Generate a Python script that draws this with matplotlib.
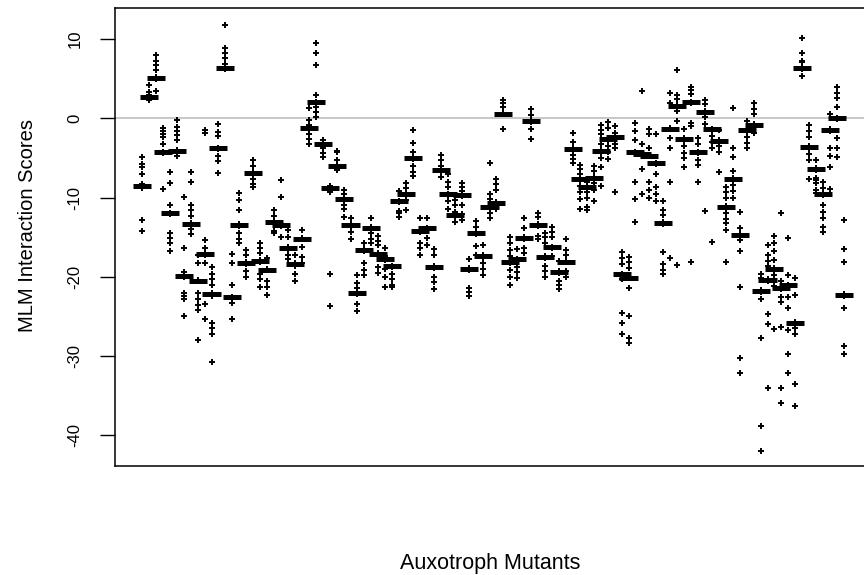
import numpy as np
import matplotlib.pyplot as plt

plt.rcParams['font.family'] = ['Liberation Sans', 'DejaVu Sans']
plt.rcParams['axes.unicode_minus'] = False

# median MLM interaction score for each auxotroph mutant, in plotting order
medians = [
    -8.5, 2.7, 5.1, -4.3, -12.0, -4.1, -19.9, -13.3, -20.5, -17.1,
    -22.2, -3.8, 6.3, -22.6, -13.5, -18.3, -6.9, -18.0, -19.1, -13.1,
    -13.5, -16.4, -18.4, -15.2, -1.2, 2.0, -3.2, -8.8, -6.0, -10.2,
    -13.5, -22.1, -16.6, -13.8, -17.1, -17.8, -18.7, -10.5, -9.6, -5.0,
    -14.2, -13.9, -18.8, -6.5, -9.6, -12.2, -9.7, -19.0, -14.5, -17.4,
    -11.2, -10.7, 0.6, -18.2, -17.8, -15.1, -0.4, -13.5, -17.5, -16.3,
    -19.4, -18.1, -3.9, -7.7, -8.7, -7.5, -4.1, -2.6, -2.4, -19.7,
    -20.1, -4.3, -4.5, -4.7, -5.7, -13.2, -1.3, 1.6, -2.6, 2.0,
    -4.3, 0.8, -1.4, -2.9, -11.2, -7.6, -14.7, -1.5, -0.8, -21.8,
    -20.4, -19.0, -21.4, -21.1, -25.8, 6.3, -3.6, -6.4, -9.6, -1.5,
    0.0, -22.3,
]

# replicate scores per mutant
scores = [
    [-8.5, -8.5, -8.3, -8.8, -7.0, -4.9, -6.2, -5.8, -12.9, -14.2],
    [2.7, 2.5, 2.9, 2.3, 3.3, 4.2, 2.6],
    [5.1, 5.0, 5.2, 6.1, 6.7, 7.3, 8.0, 3.4],
    [-4.3, -4.2, -4.4, -1.2, -1.6, -2.0, -2.4, -3.2, -8.9],
    [-12.0, -11.9, -12.1, -11.0, -6.8, -8.2, -14.5, -15.1, -15.8, -16.7],
    [-4.1, -4.0, -4.2, -1.1, -1.6, -2.1, -2.7, -4.8, -0.2],
    [-19.9, -19.8, -20.0, -19.4, -16.4, -22.0, -22.4, -22.8, -24.9, -9.9],
    [-13.3, -13.2, -13.5, -11.0, -11.6, -12.3, -6.8, -8.0, -14.0, -14.6],
    [-20.5, -20.4, -20.6, -17.3, -18.3, -22.1, -22.8, -23.6, -24.2, -28.0],
    [-17.1, -17.0, -17.2, -15.4, -16.4, -18.3, -23.4, -25.4, -1.5, -1.9],
    [-22.2, -22.1, -22.4, -18.8, -19.6, -20.3, -21.0, -25.9, -26.5, -27.2, -30.8],
    [-3.8, -3.7, -3.9, -0.7, -1.7, -2.2, -4.7, -5.4, -6.9],
    [6.3, 6.2, 6.4, 6.9, 7.6, 8.2, 8.9, 11.8],
    [-22.6, -22.5, -22.7, -23.3, -25.3, -17.1, -18.3, -21.0],
    [-13.5, -13.4, -13.6, -9.4, -10.3, -11.6, -14.5, -15.2, -15.8],
    [-18.3, -18.2, -18.4, -16.6, -17.2, -19.3, -20.0],
    [-6.9, -6.8, -7.0, -5.3, -6.0, -7.7, -8.3, -8.7],
    [-18.0, -17.9, -18.1, -15.8, -16.4, -17.0, -19.7, -20.3, -21.3],
    [-19.1, -19.0, -19.2, -17.6, -20.5, -21.3, -22.3],
    [-13.1, -13.0, -13.2, -11.6, -12.3, -14.2, -14.5],
    [-13.5, -13.4, -13.6, -7.8, -9.9, -15.0],
    [-16.4, -16.3, -16.5, -14.1, -15.0, -17.3, -17.8],
    [-18.4, -18.3, -18.5, -17.2, -18.7, -19.6, -20.6],
    [-15.2, -15.1, -15.3, -14.1, -16.3, -17.5, -18.3],
    [-1.2, -1.1, -1.3, -0.2, -0.9, -2.0, -2.6, -3.2, 1.3],
    [2.0, 1.9, 2.1, 2.9, 9.5, 8.2, 6.7, 1.4, 0.8, 0.2],
    [-3.2, -3.1, -3.3, -2.7, -3.8, -4.4, -4.9],
    [-8.8, -8.7, -8.9, -8.5, -9.3, -19.7, -23.7],
    [-6.0, -5.9, -6.1, -4.1, -4.3, -5.3, -6.5],
    [-10.2, -10.1, -10.3, -9.0, -9.6, -11.0, -11.5, -12.5],
    [-13.5, -13.4, -13.6, -12.6, -14.3, -15.2],
    [-22.1, -22.0, -22.2, -19.8, -20.8, -21.4, -23.4, -24.3],
    [-16.6, -16.5, -16.7, -15.8, -18.3, -19.2, -19.8],
    [-13.8, -13.7, -13.9, -12.6, -14.5, -15.2, -15.8],
    [-17.1, -17.0, -17.2, -14.9, -15.5, -16.0, -18.8, -19.5],
    [-17.8, -17.7, -17.9, -16.4, -17.4, -19.0, -20.0, -21.3],
    [-18.7, -18.6, -18.8, -19.6, -20.3, -21.0, -21.3],
    [-10.5, -10.4, -10.6, -9.2, -11.7, -12.0, -12.4],
    [-9.6, -9.5, -9.7, -8.2, -8.8, -10.3, -11.6],
    [-5.0, -4.9, -5.1, -1.5, -3.1, -4.3, -6.0, -6.8, -7.3],
    [-14.2, -14.1, -14.3, -12.6, -15.8, -16.4, -17.2],
    [-13.9, -13.8, -14.0, -12.6, -15.1, -16.0],
    [-18.8, -18.7, -18.9, -16.5, -17.3, -20.0, -20.7, -21.5],
    [-6.5, -6.4, -6.6, -4.6, -5.3, -6.0, -7.4],
    [-9.6, -9.5, -9.7, -7.0, -8.0, -8.7, -10.5, -11.4],
    [-12.2, -12.1, -12.3, -10.3, -11.0, -11.8, -13.1],
    [-9.7, -9.6, -9.8, -8.2, -8.7, -9.2, -11.0, -12.1, -12.8],
    [-19.0, -18.9, -19.1, -17.8, -21.4, -21.9, -22.4],
    [-14.5, -14.4, -14.6, -13.0, -13.7, -16.1, -17.2],
    [-17.4, -17.3, -17.5, -16.0, -18.3, -19.0, -19.8],
    [-11.2, -11.1, -11.3, -5.7, -9.6, -10.2, -12.0, -12.6],
    [-10.7, -10.6, -10.8, -7.6, -8.3, -9.1, -11.5],
    [0.6, 0.5, 0.7, 1.4, 1.9, 2.3, -1.3],
    [-18.2, -18.1, -18.3, -15.0, -15.8, -16.6, -17.4, -19.2, -20.0, -21.1],
    [-17.8, -17.7, -17.9, -16.5, -18.8, -19.4, -20.2],
    [-15.1, -15.0, -15.2, -12.6, -13.8, -16.4, -17.0],
    [-0.4, -0.3, -0.5, 1.2, 0.4, -1.3, -2.6],
    [-13.5, -13.4, -13.6, -12.0, -12.5, -14.8, -15.3],
    [-17.5, -17.4, -17.6, -14.5, -15.0, -15.8, -18.6, -19.3, -20.0],
    [-16.3, -16.2, -16.4, -13.7, -14.3, -15.0, -17.4],
    [-19.4, -19.3, -19.5, -18.0, -20.5, -21.0, -21.5],
    [-18.1, -18.0, -18.2, -15.3, -16.6, -17.3, -19.3, -20.0],
    [-3.9, -3.8, -4.0, -1.9, -3.0, -4.6, -5.1, -5.6],
    [-7.7, -7.6, -7.8, -5.9, -6.4, -7.0, -8.5, -9.3, -10.2, -11.5],
    [-8.7, -8.6, -8.8, -8.0, -9.3, -10.0, -11.2, -11.6],
    [-7.5, -7.4, -7.6, -6.0, -6.6, -8.2, -9.0, -10.4],
    [-4.1, -4.0, -4.2, -0.8, -1.5, -2.0, -3.3, -5.0, -6.2, -8.5],
    [-2.6, -2.5, -2.7, -0.5, -1.2, -3.5, -4.2, -5.1],
    [-2.4, -2.3, -2.5, -1.0, -1.8, -3.2, -3.8, -9.3],
    [-19.7, -19.6, -19.8, -16.9, -17.6, -18.4, -20.3, -24.6, -25.9, -27.2],
    [-20.1, -20.0, -20.2, -17.5, -18.2, -18.9, -21.4, -25.0, -27.7, -28.4],
    [-4.3, -4.2, -4.4, -0.6, -1.6, -2.8, -8.1, -10.2, -13.1],
    [-4.5, -4.4, -4.6, 3.4, -3.2, -6.4, -9.5],
    [-4.7, -4.6, -4.8, -1.3, -2.0, -3.8, -8.0, -9.0, -10.0],
    [-5.7, -5.6, -5.8, -2.0, -7.0, -8.7, -9.5, -10.4],
    [-13.2, -13.1, -13.3, -10.4, -11.6, -12.2, -16.9, -18.4, -19.2, -19.6],
    [-1.3, -1.2, -1.4, 1.9, 3.2, -2.5, -3.7, -8.0, -17.6],
    [1.6, 1.5, 1.7, 0.9, 2.4, 3.0, 6.1, -0.4, -18.5],
    [-2.6, -2.5, -2.7, -1.3, -3.5, -4.4, -5.0, -6.2],
    [2.0, 1.9, 2.1, 3.1, 3.6, 3.9, -0.6, -1.0, -18.2],
    [-4.3, -4.2, -4.4, -2.5, -3.2, -5.3, -5.9, -8.0],
    [0.8, 0.7, 0.9, 1.8, 2.3, 0.2, -0.7, -11.7],
    [-1.4, -1.3, -1.5, -2.2, -3.0, -3.8, -15.6],
    [-2.9, -2.8, -3.0, -1.5, -3.5, -4.3, -6.8],
    [-11.2, -11.1, -11.3, -8.7, -9.3, -10.0, -11.9, -12.7, -13.2, -14.1, -18.1],
    [-7.6, -7.5, -7.7, -6.7, -3.8, -4.9, -8.4, -9.2, -10.0, 1.3],
    [-14.7, -14.6, -14.8, -11.8, -13.8, -15.4, -16.7, -21.3, -30.3, -32.2],
    [-1.5, -1.4, -1.6, -0.3, -2.4, -3.1, -3.8],
    [-0.8, -0.7, -0.9, 0.6, 1.2, 1.9, -1.8],
    [-21.8, -21.7, -21.9, -19.6, -20.2, -22.8, -27.8, -38.9, -42.0],
    [-20.4, -20.3, -20.5, -16.0, -17.2, -18.0, -18.6, -24.7, -26.0, -34.0],
    [-19.0, -18.9, -19.1, -14.8, -15.7, -16.8, -17.9, -19.8, -21.2, -26.6],
    [-21.4, -21.3, -21.5, -12.0, -20.6, -22.6, -23.2, -26.4, -34.0, -36.0],
    [-21.1, -21.0, -21.2, -15.1, -19.8, -22.6, -23.9, -26.7, -29.8, -32.2],
    [-25.8, -25.7, -25.9, -20.1, -22.3, -26.5, -27.2, -33.6, -36.3],
    [6.3, 6.2, 6.4, 5.4, 7.1, 7.3, 8.2, 10.1],
    [-3.6, -3.5, -3.7, -0.9, -1.6, -2.3, -4.5, -5.3, -7.6],
    [-6.4, -6.3, -6.5, -5.3, -7.5, -7.8, -8.2, -9.0, -9.4],
    [-9.6, -9.5, -9.7, -8.0, -8.8, -11.0, -11.8, -12.6, -13.7, -14.4],
    [-1.5, -1.4, -1.6, 0.5, -3.7, -4.8, -6.2, -8.9],
    [0.0, 0.1, -0.1, 1.4, 2.6, 3.2, 3.9, -2.5, -3.8, -4.9],
    [-22.3, -22.2, -22.4, -12.9, -16.5, -18.2, -23.9, -28.7, -29.7],
]

mutants = np.arange(1, len(medians) + 1)

W, H = 864, 575
fig = plt.figure(figsize=(W / 100, H / 100), dpi=100)
# plot region runs past the right edge of the image
ax = fig.add_axes([115 / W, 1 - 466 / H, 765 / W, 458 / H])

ax.axhline(0, color='#bebebe', lw=1.2, zorder=1)

for x, vals in zip(mutants, scores):
    ax.plot(np.full(len(vals), x), vals, ls='none', marker='+',
            ms=4.8, mew=1.4, color='black', zorder=2)

ax.hlines(medians, mutants - 1.3, mutants + 1.3, color='black',
          lw=3.6, zorder=3)

px_per_unit = 6.95
x0 = 1 - 27 / px_per_unit
ax.set_xlim(x0, x0 + 765 / px_per_unit)
ax.set_ylim(-43.9, 13.93)

ax.set_xticks([])
ax.set_yticks([-40, -30, -20, -10, 0, 10])
ax.tick_params(axis='y', length=10.5, width=1.0, pad=13, labelsize=12,
               labelrotation=90)
for t in ax.get_yticklabels():
    t.set_va('center')

for s in ax.spines.values():
    s.set_linewidth(1.1)

fig.text(28 / W, 1 - 225 / H, 'MLM Interaction Scores', rotation=90,
         ha='center', va='center', fontsize=14.5)
fig.text(490 / W, 1 - 563 / H, 'Auxotroph Mutants', ha='center',
         va='center', fontsize=15.5)

fig.savefig('out.png', dpi=100)
